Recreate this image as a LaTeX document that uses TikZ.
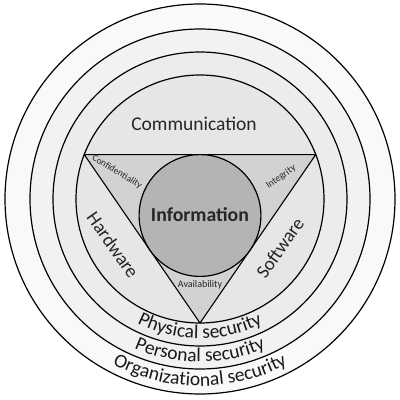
\documentclass[tikz,border=0pt]{standalone}
\usepackage{fontspec}
\setmainfont{Carlito}
\usetikzlibrary{decorations.text,calc}
\definecolor{ringA}{HTML}{F9F9F9}
\definecolor{ringB}{HTML}{F2F2F2}
\definecolor{ringC}{HTML}{ECECEC}
\definecolor{ringD}{HTML}{E6E6E6}
\definecolor{triF}{HTML}{D2D2D2}
\definecolor{infoF}{HTML}{B4B4B4}
\tikzset{
  ring/.style={circle, draw=black, line width=1.2pt, inner sep=0pt},
  lab/.style={inner sep=0pt, text=black!85},
  ringtext/.style={decorate, decoration={text along path, text align=center, text color=black!90}}
}
\begin{document}
\begin{tikzpicture}[x=1pt,y=1pt]
\useasboundingbox (0,0) rectangle (400,400);
\coordinate (C) at (200,201);
\node[ring, fill=ringA, minimum size=390pt] (c1) at (C) {};
\node[ring, fill=ringB, minimum size=340pt] (c2) at (C) {};
\node[ring, fill=ringC, minimum size=294pt] (c3) at (C) {};
\node[ring, fill=ringD, minimum size=248pt] (c4) at (C) {};
\coordinate (tA) at ($(C)+(159:124)$);
\coordinate (tB) at ($(C)+(21:124)$);
\coordinate (tD) at ($(C)+(270:124)$);
\draw[fill=triF, line width=1.1pt, line join=round] (tA) -- (tB) -- (tD) -- cycle;
\node[ring, fill=infoF, minimum size=121.8pt] (info) at (200,184.5) {};
\node[lab] (infot) at (200,185) {\fontsize{19.8}{19.8}\selectfont\bfseries Information};
\node[lab] (comm) at (194,276) {\fontsize{19.5}{19.5}\selectfont Communication};
\node[lab, rotate=-55] (hw) at (113,155) {\fontsize{19}{19}\selectfont Hardware};
\node[lab, rotate=55] (sw) at (280,152) {\fontsize{19}{19}\selectfont Software};
\node[lab, rotate=-31] (conf) at (117,228) {\fontsize{9.5}{9.5}\selectfont Confidentiality};
\node[lab, rotate=35] (integ) at (281,223) {\fontsize{9.8}{9.8}\selectfont Integrity};
\node[lab] (avail) at (200,115) {\fontsize{10}{10}\selectfont Availability};
\path[ringtext, decoration={text={|\fontsize{19.5}{19.5}\selectfont|Physical security}}]
  ($(C)+(180:139.5)$) arc[start angle=180, end angle=360, radius=139.5];
\path[ringtext, decoration={text={|\fontsize{19.5}{19.5}\selectfont|Personal security}}]
  ($(C)+(180:163)$) arc[start angle=180, end angle=360, radius=163];
\path[ringtext, decoration={text={|\fontsize{19.5}{19.5}\selectfont|Organizational security}}]
  ($(C)+(180:187)$) arc[start angle=180, end angle=360, radius=187];
\end{tikzpicture}
\end{document}
